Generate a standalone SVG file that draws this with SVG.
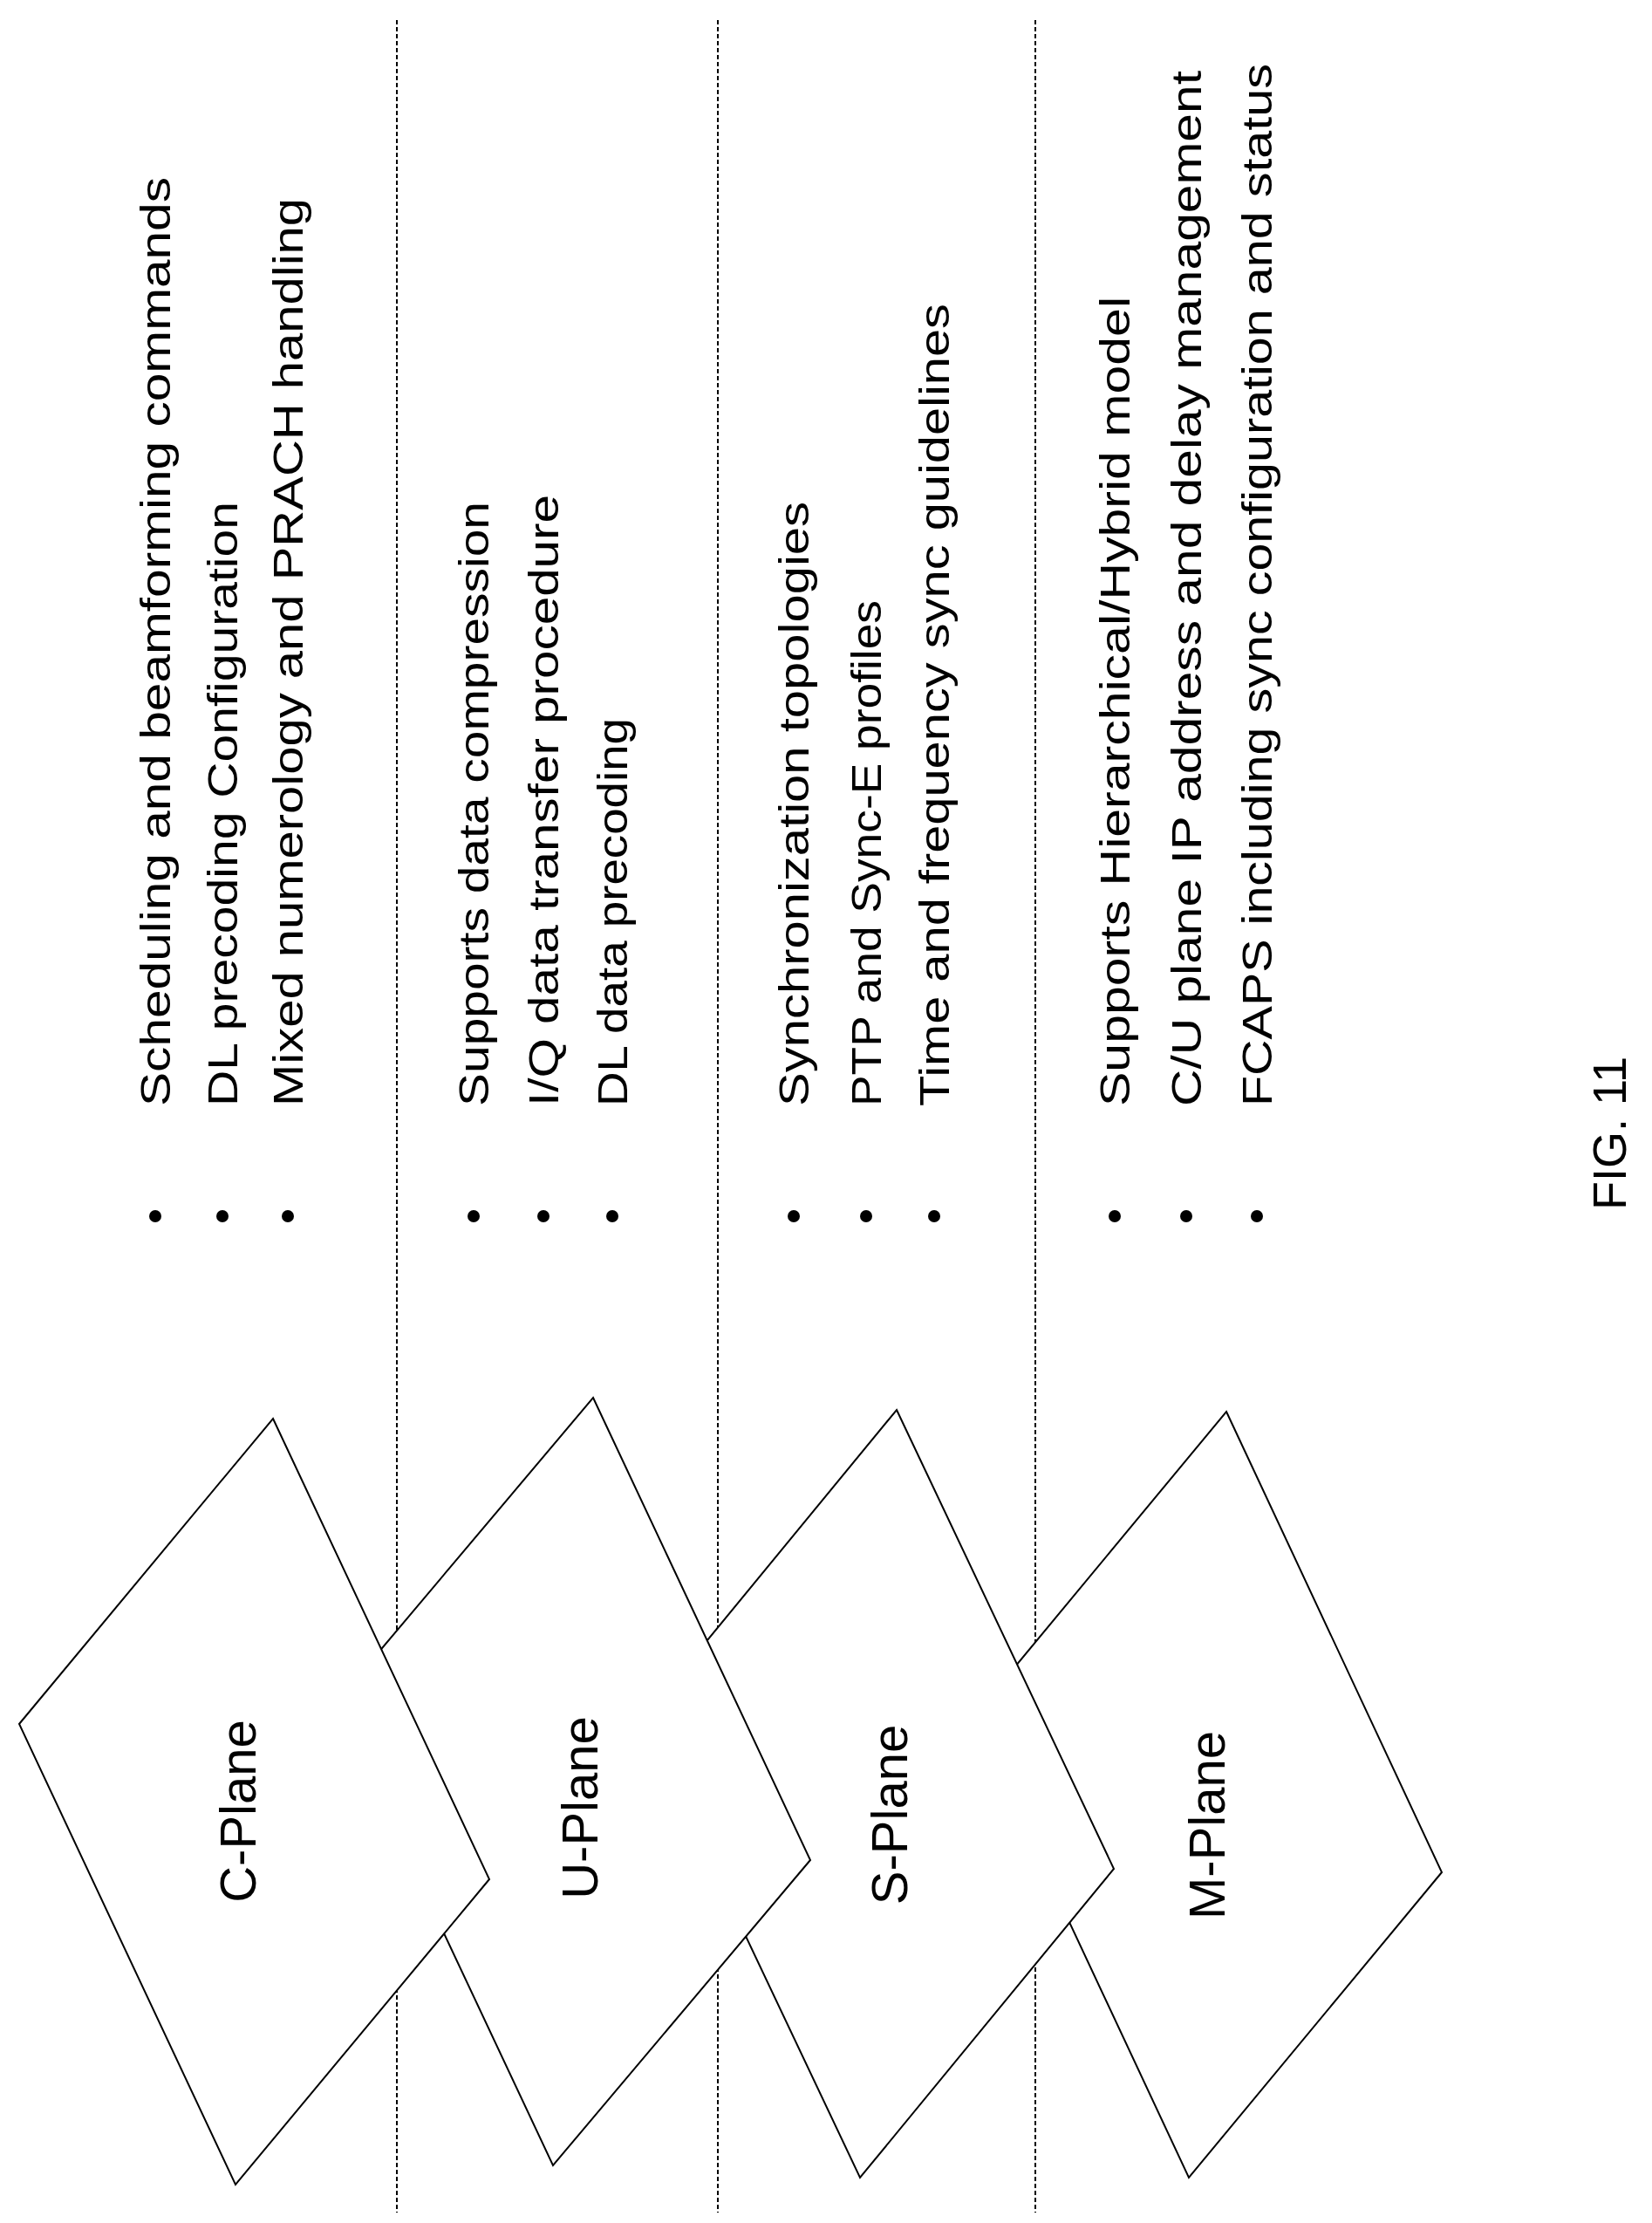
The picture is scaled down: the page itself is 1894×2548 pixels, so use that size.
<svg xmlns="http://www.w3.org/2000/svg" width="1894" height="2548" viewBox="0 0 1894 2548">
<style>
.d{stroke:#000;stroke-width:2;stroke-dasharray:5,3;fill:none}
.p{fill:#fff;stroke:#000;stroke-width:2}
.l{font-family:"Liberation Sans",Arial,sans-serif;font-size:58px;text-anchor:middle}
.t{font-family:"Liberation Sans",Arial,sans-serif;font-size:48px}
.b{fill:#000}
</style>
<rect width="1894" height="2548" fill="#fff"/>
<g id="connectors">
<line class="d" x1="455" y1="23" x2="455" y2="2536"/>
<line class="d" x1="823" y1="23" x2="823" y2="2536"/>
<line class="d" x1="1187" y1="23" x2="1187" y2="2536"/>
</g>
<g id="m-plane"><polygon class="p" points="1406,1618 1653,2146 1363,2496 1116,1968"/><text class="l" transform="translate(1404,2092) rotate(-90)">M-Plane</text></g>
<g id="s-plane"><polygon class="p" points="1028,1616 1277,2142 986,2496 737,1970"/><text class="l" transform="translate(1040,2080) rotate(-90)">S-Plane</text></g>
<g id="u-plane"><polygon class="p" points="680,1602 929,2132 634,2482 385,1952"/><text class="l" transform="translate(685,2072) rotate(-90)">U-Plane</text></g>
<g id="c-plane"><polygon class="p" points="313,1626 561,2154 270,2504 22,1976"/><text class="l" transform="translate(293,2076) rotate(-90)">C-Plane</text></g>
<g id="bullets">
<circle class="b" cx="178" cy="1394" r="7"/><circle class="b" cx="255" cy="1394" r="7"/><circle class="b" cx="330" cy="1394" r="7"/>
<circle class="b" cx="543" cy="1394" r="7"/><circle class="b" cx="623" cy="1394" r="7"/><circle class="b" cx="702" cy="1394" r="7"/>
<circle class="b" cx="910" cy="1394" r="7"/><circle class="b" cx="993" cy="1394" r="7"/><circle class="b" cx="1071" cy="1394" r="7"/>
<circle class="b" cx="1278" cy="1394" r="7"/><circle class="b" cx="1360" cy="1394" r="7"/><circle class="b" cx="1441" cy="1394" r="7"/>
</g>
<g id="c-text">
<text class="t" transform="translate(195,1268) rotate(-90)" textLength="1065" lengthAdjust="spacingAndGlyphs">Scheduling and beamforming commands</text>
<text class="t" transform="translate(272,1268) rotate(-90)" textLength="693" lengthAdjust="spacingAndGlyphs">DL precoding Configuration</text>
<text class="t" transform="translate(347,1268) rotate(-90)" textLength="1041" lengthAdjust="spacingAndGlyphs">Mixed numerology and PRACH handling</text>
</g>
<g id="u-text">
<text class="t" transform="translate(560,1268) rotate(-90)" textLength="693" lengthAdjust="spacingAndGlyphs">Supports data compression</text>
<text class="t" transform="translate(640,1268) rotate(-90)" textLength="701" lengthAdjust="spacingAndGlyphs">I/Q data transfer procedure</text>
<text class="t" transform="translate(719,1268) rotate(-90)" textLength="445" lengthAdjust="spacingAndGlyphs">DL data precoding</text>
</g>
<g id="s-text">
<text class="t" transform="translate(927,1268) rotate(-90)" textLength="693" lengthAdjust="spacingAndGlyphs">Synchronization topologies</text>
<text class="t" transform="translate(1010,1268) rotate(-90)" textLength="580" lengthAdjust="spacingAndGlyphs">PTP and Sync-E profiles</text>
<text class="t" transform="translate(1088,1268) rotate(-90)" textLength="920" lengthAdjust="spacingAndGlyphs">Time and frequency sync guidelines</text>
</g>
<g id="m-text">
<text class="t" transform="translate(1295,1268) rotate(-90)" textLength="928" lengthAdjust="spacingAndGlyphs">Supports Hierarchical/Hybrid model</text>
<text class="t" transform="translate(1377,1268) rotate(-90)" textLength="1187" lengthAdjust="spacingAndGlyphs">C/U plane IP address and delay management</text>
<text class="t" transform="translate(1458,1268) rotate(-90)" textLength="1195" lengthAdjust="spacingAndGlyphs">FCAPS including sync configuration and status</text>
</g>
<g id="fig"><text class="t" style="font-size:54px;text-anchor:middle" transform="translate(1864,1299) rotate(-90)">FIG. 11</text></g>
</svg>
